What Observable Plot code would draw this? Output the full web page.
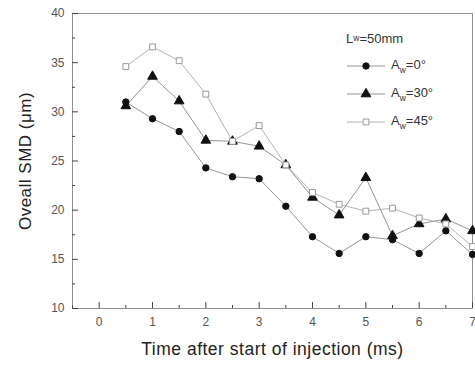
<!DOCTYPE html>
<html><head><meta charset="utf-8">
<script src="https://cdn.jsdelivr.net/npm/d3@7"></script>
<script src="https://cdn.jsdelivr.net/npm/@observablehq/plot@0.6"></script>
<style>
body{margin:0;background:#fff;font-family:"Liberation Sans",Arial,sans-serif;}
#wrap{position:relative;width:475px;height:369px;}
#legend{position:absolute;left:346px;top:24px;font-size:13px;color:#333;}
#legend .row{display:flex;align-items:center;height:28px;}
#legend sub{font-size:8.5px;vertical-align:-4px;}
#legend svg{margin-right:5px;}
</style></head>
<body><div id="wrap"><div id="chart"></div>
<div id="legend"></div></div>
<script>
const times = [0.5,1,1.5,2,2.5,3,3.5,4,4.5,5,5.5,6,6.5,7];
const smd0  = [31.0,29.3,28.0,24.3,23.4,23.2,20.4,17.3,15.6,17.3,17.0,15.6,17.9,15.5];
const smd30 = [30.6,33.6,31.1,27.1,27.0,26.5,24.6,21.3,19.5,23.3,17.4,18.6,19.1,17.9];
const smd45 = [34.6,36.6,35.2,31.8,27.0,28.6,24.6,21.8,20.6,19.9,20.2,19.2,18.6,16.3];
const seriesNames = ["0°","30°","45°"];
const xTicks = [0,1,2,3,4,5,6,7];
const xMinor = [-0.5,0.5,1.5,2.5,3.5,4.5,5.5,6.5];
const yTicks = [10,15,20,25,30,35,40];
const yMinor = [12.5,17.5,22.5,27.5,32.5,37.5];

const styles = {
  "0°": {symbol:"circle", fill:"#111", stroke:"#111", line:"#888", r:3.2},
  "30°": {symbol:"triangle", fill:"#111", stroke:"#111", line:"#888", r:3.6},
  "45°": {symbol:"square", fill:"white", stroke:"#999", line:"#aaa", r:3.3}
};
const all = [smd0, smd30, smd45];
const data = [];
seriesNames.forEach((s,i)=>times.forEach((t,j)=>data.push({t, v: all[i][j], s})));

const W = 475, H = 369, mL = 72, mR = 3, mT = 13, mB = 61;
const pw = W - mL - mR, ph = H - mT - mB;

const marks = [Plot.frame({stroke:"#777", strokeWidth:0.8})];
marks.push(
  Plot.ruleX(xTicks,{x:d=>d,insetTop:ph-6,stroke:"#444",strokeWidth:1}),
  Plot.ruleX(xMinor,{x:d=>d,insetTop:ph-3,stroke:"#444",strokeWidth:1}),
  Plot.ruleY(yTicks,{y:d=>d,insetRight:pw-6,stroke:"#444",strokeWidth:1}),
  Plot.ruleY(yMinor,{y:d=>d,insetRight:pw-3,stroke:"#444",strokeWidth:1})
);
for (const s of seriesNames) {
  const d = data.filter(o=>o.s===s);
  const st = styles[s];
  marks.push(Plot.line(d,{x:"t",y:"v",stroke:st.line,strokeWidth:0.9}));
}
for (const s of seriesNames) {
  const d = data.filter(o=>o.s===s);
  const st = styles[s];
  marks.push(Plot.dot(d,{x:"t",y:"v",symbol:()=>st.symbol,r:st.r,fill:st.fill,stroke:st.stroke,strokeWidth:1}));
}
marks.push(
  Plot.axisX(xTicks,{tickSize:0,tickPadding:9,fontSize:12,fill:"#555",label:"Time after start of injection (ms)",labelAnchor:"center",labelArrow:"none",labelOffset:46}),
  Plot.axisY(yTicks,{tickSize:0,tickPadding:8,fontSize:12,fill:"#555",label:"Oveall SMD (μm)",labelAnchor:"center",labelArrow:"none",labelOffset:54})
);

const chart = Plot.plot({
  width:W, height:H,
  marginLeft:mL, marginRight:mR, marginTop:mT, marginBottom:mB,
  style:{fontFamily:"Liberation Sans, Arial, sans-serif", fontSize:"13px", color:"#333", background:"white"},
  x:{domain:[-0.5,7]},
  y:{domain:[10,40]},
  marks
});
document.getElementById("chart").appendChild(chart);
chart.querySelectorAll("g[aria-label='x-axis label'] text").forEach(t=>{t.setAttribute("font-size","17.5");t.setAttribute("fill","#222");t.setAttribute("letter-spacing","0.5");});
chart.querySelectorAll("g[aria-label='y-axis label'] text").forEach(t=>{t.setAttribute("font-size","17");t.setAttribute("fill","#222");t.setAttribute("letter-spacing","0.5");});

// legend
const lg = document.getElementById("legend");
const hdr = document.createElement("div");
hdr.className="row"; hdr.innerHTML = "L<sub>w</sub>=50mm";
lg.appendChild(hdr);
for (const s of seriesNames) {
  const st = styles[s];
  const row = document.createElement("div"); row.className="row";
  const svg = d3.create("svg").attr("width",40).attr("height",14);
  svg.append("line").attr("x1",1).attr("x2",39).attr("y1",7).attr("y2",7).attr("stroke",st.line).attr("stroke-width",0.9);
  svg.append("path").attr("transform","translate(20,7)")
    .attr("d", d3.symbol(st.symbol==="circle"?d3.symbolCircle:st.symbol==="triangle"?d3.symbolTriangle:d3.symbolSquare, Math.PI*st.r*st.r)())
    .attr("fill",st.fill).attr("stroke",st.stroke);
  row.appendChild(svg.node());
  const lab = document.createElement("span"); lab.innerHTML = "A<sub>w</sub>=" + s;
  row.appendChild(lab);
  lg.appendChild(row);
}
</script></body></html>
